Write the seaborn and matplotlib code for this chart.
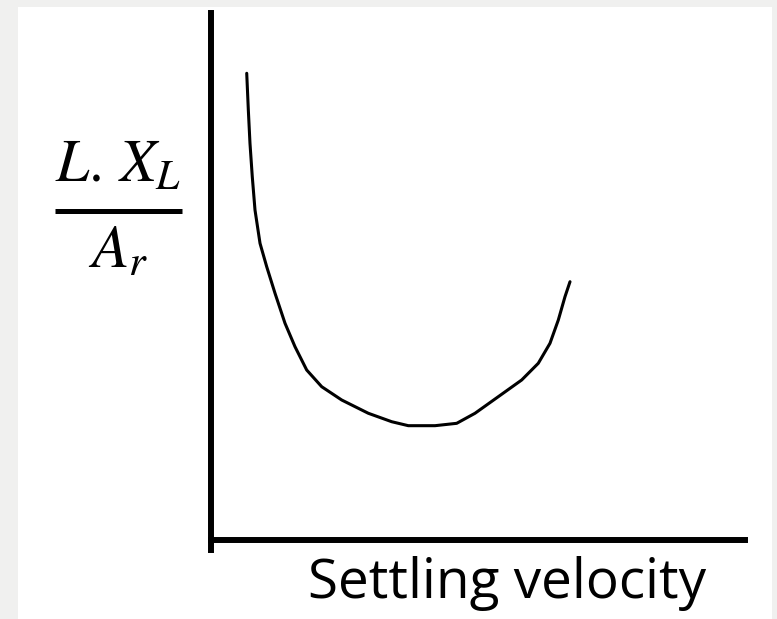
import matplotlib
matplotlib.use("Agg")
import matplotlib.pyplot as plt
from matplotlib.patches import Rectangle
from matplotlib.lines import Line2D
import numpy as np
import pandas as pd
import seaborn as sns

# Sketch of solids flux per unit area against settling velocity
velocity = [0.669, 0.699, 0.730, 0.773, 0.824, 0.918, 1.043, 1.199, 1.386,
            1.573, 1.792, 2.073, 2.448, 2.946, 3.384, 3.695, 4.195, 4.601,
            4.944, 5.380, 5.818, 6.129, 6.348, 6.504, 6.629, 6.723]
flux = [8.877, 8.194, 7.573, 6.952, 6.331, 5.711, 5.276, 4.780, 4.222,
        3.786, 3.352, 3.041, 2.793, 2.546, 2.389, 2.315, 2.315, 2.359,
        2.546, 2.855, 3.166, 3.477, 3.849, 4.283, 4.717, 4.996]

x_label = "Settling velocity"
numerator = r"$L.\,X_L$"
denominator = r"$A_r$"

sns.set_theme(style="white")
plt.rcParams["mathtext.fontset"] = "stix"

W, H = 777, 619
fig = plt.figure(figsize=(W / 100, H / 100), dpi=100)
fig.patch.set_facecolor("#f0f0ef")
# white page area
fig.patches.append(Rectangle((18 / W, 0), (772 - 18) / W, (H - 7) / H,
                             transform=fig.transFigure, facecolor="white",
                             edgecolor="none", zorder=-10))

def px_box(left, top, right, bottom):
    return [left / W, 1 - bottom / H, (right - left) / W, (bottom - top) / H]

ax = fig.add_axes(px_box(211, 13, 745, 550))
ax.set_facecolor("none")
ax.set_zorder(5)

df = pd.DataFrame({"velocity": velocity, "flux": flux})
sns.lineplot(data=df, x="velocity", y="flux", sort=False, color="black",
             linewidth=2.2, ax=ax, solid_joinstyle="round",
             solid_capstyle="round")

ax.set_xlim(0, 10)
ax.set_ylim(0, 10)
ax.set_xticks([])
ax.set_yticks([])
ax.set_xlabel("")
ax.set_ylabel("")
for side in ("top", "right"):
    ax.spines[side].set_visible(False)
for side in ("left", "bottom"):
    ax.spines[side].set_color("black")
    ax.spines[side].set_linewidth(4.3)
ax.spines["bottom"].set_position(("outward", -7.2))

fig.text(308 / W, 1 - 598 / H, x_label, ha="left", va="baseline",
         fontsize=39.5, family=["Open Sans", "DejaVu Sans"], color="black")

cx = 118 / W
fig.text(cx, 1 - 182 / H, numerator, ha="center", va="baseline", fontsize=43,
         color="black")
fig.text(cx, 1 - 268 / H, denominator, ha="center", va="baseline", fontsize=44,
         color="black")
fig.lines.append(Line2D([55 / W, 182 / W], [1 - 210.5 / H, 1 - 210.5 / H],
                        transform=fig.transFigure, color="black",
                        linewidth=3.6, solid_capstyle="butt"))

fig.savefig("out.png", dpi=100, facecolor=fig.get_facecolor())
